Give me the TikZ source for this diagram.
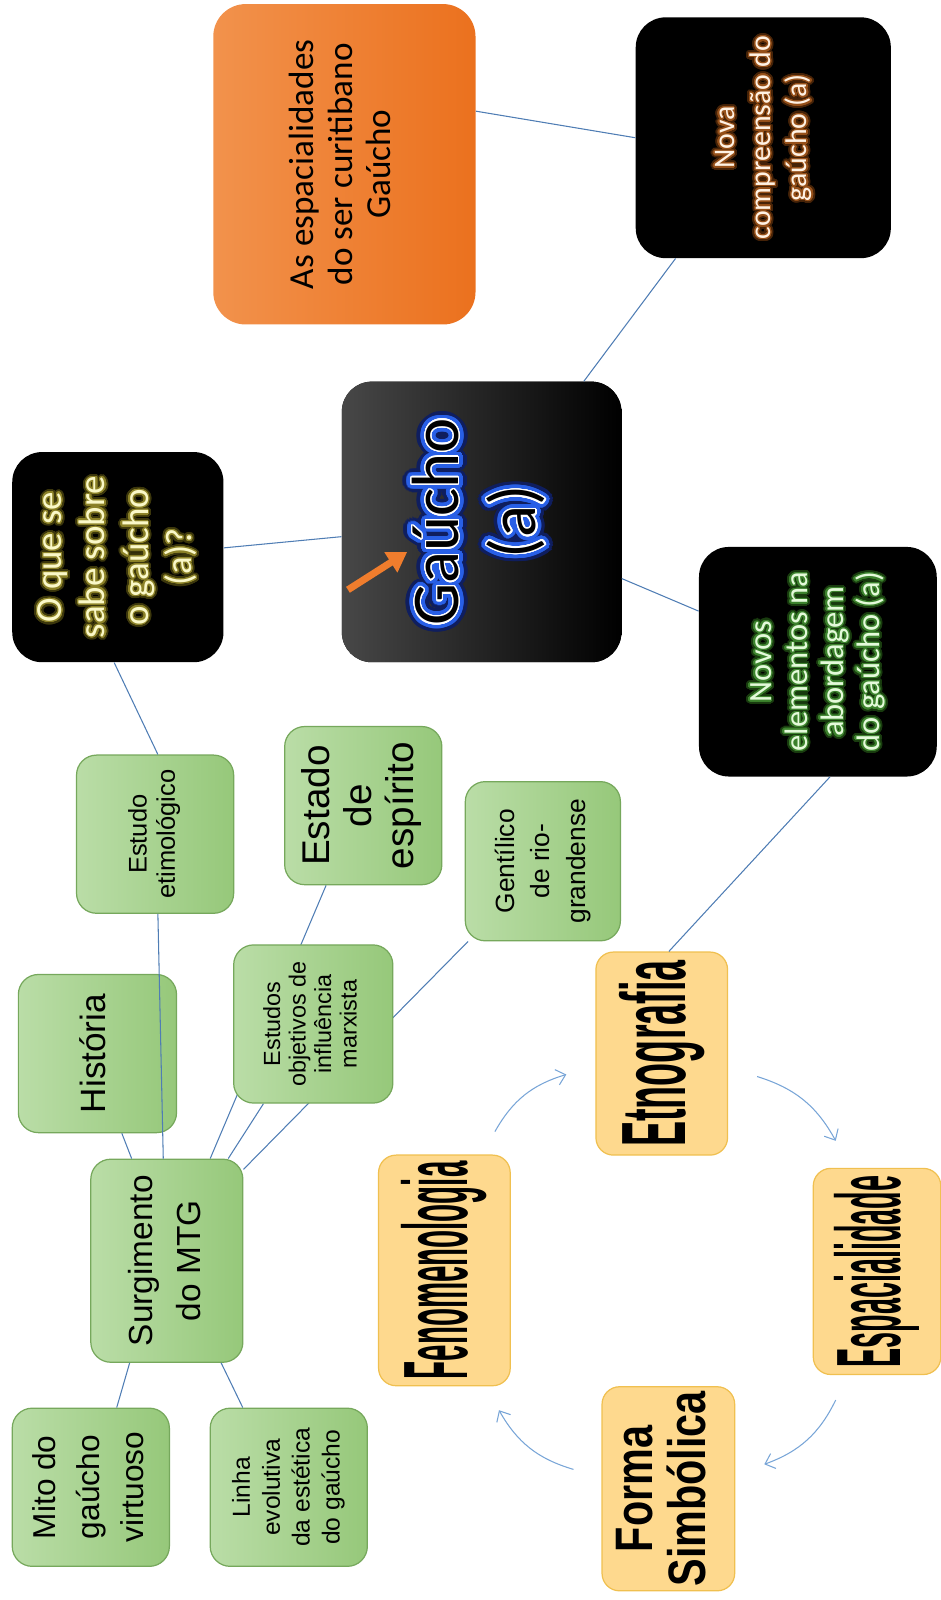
\documentclass[tikz,border=0pt]{standalone}
\usepackage{fontspec}
\usepackage{graphicx}
\usepackage[copies]{contour}
\usetikzlibrary{arrows.meta,backgrounds}

\newfontfamily\arialf{Liberation Sans}
\newfontfamily\calibf{Carlito}

\definecolor{lnkC}{RGB}{79,125,180}
\definecolor{cycC}{RGB}{120,165,215}
\definecolor{grnA}{RGB}{186,221,167}
\definecolor{grnB}{RGB}{150,200,122}
\definecolor{grnL}{RGB}{118,168,92}
\definecolor{orgA}{RGB}{242,146,76}
\definecolor{orgB}{RGB}{235,113,30}
\definecolor{ylwF}{RGB}{254,217,142}
\definecolor{ylwL}{RGB}{240,192,80}
\definecolor{txtY}{RGB}{250,248,200}
\definecolor{gloY}{RGB}{140,130,40}
\definecolor{dimY}{RGB}{60,55,12}
\definecolor{txtO}{RGB}{255,242,228}
\definecolor{gloO}{RGB}{150,80,25}
\definecolor{dimO}{RGB}{70,35,8}
\definecolor{txtG}{RGB}{228,250,218}
\definecolor{gloG}{RGB}{60,130,45}
\definecolor{dimG}{RGB}{25,60,15}
\definecolor{gloB}{RGB}{40,95,230}
\definecolor{dimB}{RGB}{15,30,95}
\definecolor{arrO}{RGB}{240,125,45}

\newlength\pxu
\setlength\pxu{0.20408mm}
\contournumber{32}

% rotated block of centred lines
\newcommand{\vt}[3]{\rotatebox{90}{\fontsize{#1}{#2}\selectfont%
  \begin{tabular}{@{}c@{}}#3\end{tabular}}}
% narrow word for the cycle boxes
\newcommand{\cyt}[2]{\rotatebox{90}{\resizebox{#1}{\height}{#2}}}
% glowing line: inner glow, outer glow, text
\newcommand{\glw}[3]{\rlap{\contourlength{1.9pt}\contour{#2}{\color{#2}#3}}%
  \contourlength{0.7pt}\contour{#1}{#3}}
% outlined line with blue halo
\newcommand{\gau}[1]{\rlap{\contourlength{5pt}\contour{dimB}{\color{dimB}#1}}%
  \rlap{\contourlength{3pt}\contour{gloB}{\color{gloB}#1}}%
  \contourlength{0.8pt}\contour{white}{\color{black}#1}}

\tikzset{
  wh/.style 2 args={minimum width=#1*\pxu, minimum height=#2*\pxu},
  grn/.style={draw=grnL, line width=0.7pt, left color=grnA, right color=grnB,
    rounded corners=4mm, inner sep=0pt, font=\arialf},
  blk/.style={fill=black, rounded corners=6mm, inner sep=0pt, font=\calibf},
  org/.style={left color=orgA, right color=orgB, rounded corners=6.5mm,
    inner sep=0pt, font=\calibf},
  ylw/.style={draw=ylwL, line width=0.7pt, fill=ylwF, rounded corners=3.5mm,
    inner sep=0pt, font=\arialf\bfseries\fontsize{52}{56}\selectfont},
  lnk/.style={draw=lnkC, line width=0.6pt},
  cyc/.style={draw=cycC, line width=0.6pt, -{Straight Barb[length=5pt,width=9pt]},
    bend left=22},
}

\begin{document}
\begin{tikzpicture}[x=0.20408mm, y=-0.20408mm]
\useasboundingbox (0,0) rectangle (922,1568);

% black and orange boxes
\node[org, wh={257}{314}] (esp) at (337.5,161)
  {\vt{20}{22}{As espacialidades\\do ser curitibano\\Gaúcho}};
\node[blk, wh={250}{236}, text=txtO] (nova) at (748,135)
  {\vt{17}{20.7}{\glw{gloO}{dimO}{Nova}\\\glw{gloO}{dimO}{compreensão do}\\
   \glw{gloO}{dimO}{gaúcho (a)}}};
\node[blk, wh={274}{275}, left color=black!72, middle color=black, right color=black]
  (gaucho) at (472,511.5) {\vt{38}{44}{\gau{Gaúcho}\\\gau{(a)}}};
\node[blk, wh={207}{206}, text=txtY] (sabe) at (115.5,546)
  {\vt{21}{24.6}{\glw{gloY}{dimY}{O que se}\\\glw{gloY}{dimY}{sabe sobre}\\
   \glw{gloY}{dimY}{o gaúcho}\\\glw{gloY}{dimY}{(a)?}}};
\node[blk, wh={233}{225}, text=txtG] (novos) at (801.5,648.5)
  {\vt{18.5}{20.5}{\glw{gloG}{dimG}{Novos}\\\glw{gloG}{dimG}{elementos na}\\
   \glw{gloG}{dimG}{abordagem}\\\glw{gloG}{dimG}{do gaúcho (a)}}};

% green boxes
\node[grn, wh={154}{155}] (etim) at (152,817.5) {\vt{14.5}{16}{Estudo\\etimológico}};
\node[grn, wh={154}{155}] (estado) at (356,789.5) {\vt{22}{24}{Estado\\de\\espírito}};
\node[grn, wh={152}{156}] (gent) at (532,844) {\vt{15}{20}{Gentílico\\de rio-\\grandense}};
\node[grn, wh={155}{155}] (hist) at (95.5,1032.5) {\vt{20}{24}{História}};
\node[grn, wh={156}{155}] (objet) at (307,1003.5)
  {\vt{13.3}{14.5}{Estudos\\objetivos de\\influência\\marxista}};
\node[grn, wh={149}{199}] (surg) at (163.5,1235.5) {\vt{19}{27}{Surgimento\\do MTG}};
\node[grn, wh={154}{155}] (mito) at (89,1457.5) {\vt{18}{25}{Mito do\\gaúcho\\virtuoso}};
\node[grn, wh={154}{155}] (linha) at (283,1457.5)
  {\vt{14}{17}{Linha\\evolutiva\\da estética\\do gaúcho}};

% cycle boxes
\node[ylw, wh={129}{199}] (etno) at (648.5,1032.5) {\cyt{106pt}{Etnografia}};
\node[ylw, wh={129}{226}] (fenom) at (435.5,1245) {\cyt{124pt}{Fenomenologia}};
\node[ylw, wh={125}{202}] (espac) at (859.5,1246) {\cyt{109pt}{Espacialidade}};
\node[ylw, wh={130}{200}] (forma) at (655,1459)
  {\rotatebox{90}{\scalebox{0.785}[1]{\fontsize{30}{27}\selectfont%
   \begin{tabular}{@{}c@{}}Forma\\Simbólica\end{tabular}}}};

% links hidden behind the marxist box
\begin{pgfonlayer}{background}
\foreach \a/\b in {surg.67/estado.245, surg.59/objet.238, surg.50/gent.227}
  \draw[lnk] (\a) -- (\b);
\end{pgfonlayer}

% links
\foreach \a/\b in {esp.22/nova.180, nova.234/gaucho.54, gaucho.186/sabe.5,
  gaucho.338/novos.157, sabe.268/etim.88, novos.276/etno.86, etim.272/surg.92,
  hist.287/surg.109, surg.250/mito.72, surg.298/linha.120}
  \draw[lnk] (\a) -- (\b);

% cycle arrows
\coordinate (fenE) at (485,1109);  \coordinate (etnW) at (555,1053);
\coordinate (etnE) at (742,1055);  \coordinate (espN) at (819,1118);
\coordinate (espS) at (819,1372);  \coordinate (forE) at (749,1435);
\coordinate (forW) at (562,1440);  \coordinate (fenS) at (489,1382);
\foreach \s/\t in {fenE/etnW, etnE/espN, espS/forE, forW/fenS}
  \draw[cyc] (\s) to (\t);

% orange pointer
\coordinate (ptrA) at (341,578);
\coordinate (ptrB) at (399,541);
\draw[arrO, line width=4pt, -{Triangle[length=11pt,width=13pt]}] (ptrA) -- (ptrB);

\end{tikzpicture}
\end{document}
